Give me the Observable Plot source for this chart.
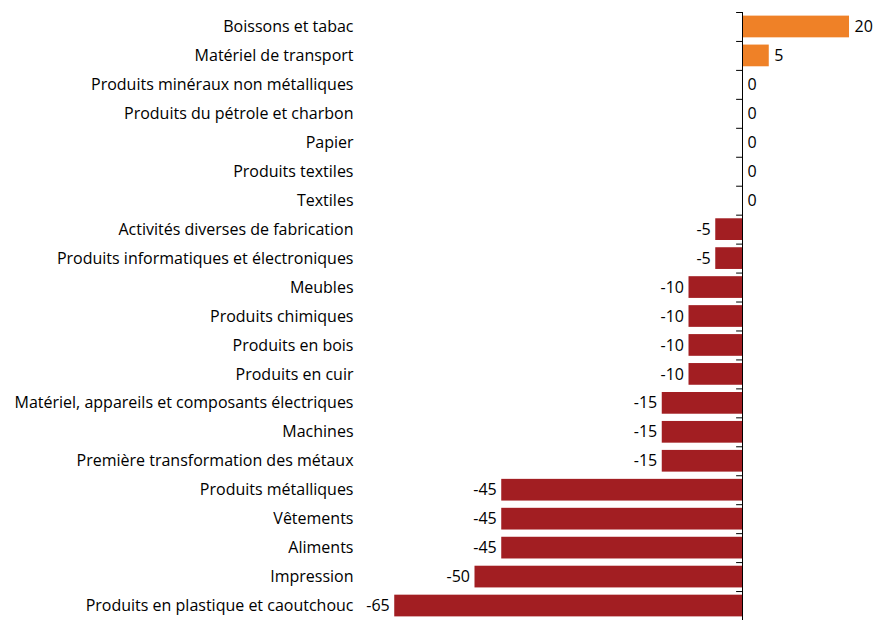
<!DOCTYPE html>
<html>
<head>
<meta charset="utf-8">
<script src="https://cdn.jsdelivr.net/npm/d3@7"></script>
<script src="https://cdn.jsdelivr.net/npm/@observablehq/plot@0.6"></script>
<style>
  html, body { margin: 0; padding: 0; background: #fff; }
  #chart svg { display: block; }
</style>
</head>
<body>
<div id="chart"></div>
<script>
const categories = [
  "Boissons et tabac",
  "Matériel de transport",
  "Produits minéraux non métalliques",
  "Produits du pétrole et charbon",
  "Papier",
  "Produits textiles",
  "Textiles",
  "Activités diverses de fabrication",
  "Produits informatiques et électroniques",
  "Meubles",
  "Produits chimiques",
  "Produits en bois",
  "Produits en cuir",
  "Matériel, appareils et composants électriques",
  "Machines",
  "Première transformation des métaux",
  "Produits métalliques",
  "Vêtements",
  "Aliments",
  "Impression",
  "Produits en plastique et caoutchouc"
];
const values = [20, 5, 0, 0, 0, 0, 0, -5, -5, -10, -10, -10, -10, -15, -15, -15, -45, -45, -45, -50, -65];

const data = categories.map((c, i) => ({category: c, value: values[i]}));

const W = 874, H = 620, mTop = 12, mBottom = 0, mLeft = 360, mRight = 0;
const step = (H - mTop - mBottom) / categories.length;
const font = "'Open Sans', sans-serif";
const fs = 16;

const chart = Plot.plot({
  width: W,
  height: H,
  marginTop: mTop,
  marginBottom: mBottom,
  marginLeft: mLeft,
  marginRight: mRight,
  style: {fontFamily: font, fontSize: fs + "px", color: "#000", background: "#fff"},
  x: {domain: [-71.4, 24.67], axis: null},
  y: {domain: categories, paddingInner: 0.25, paddingOuter: 0.125, round: false, label: null, axis: null},
  marks: [
    Plot.axisY({tickSize: 0, tickPadding: 7, fontSize: fs, fill: "#000", label: null}),
    Plot.barX(data, {
      y: "category", x: "value",
      fill: d => d.value > 0 ? "#EF8127" : "#A21E22"
    }),
    Plot.text(data.filter(d => d.value >= 0), {
      y: "category", x: "value", text: d => String(d.value),
      textAnchor: "start", dx: 5, fontSize: fs, fill: "#000"
    }),
    Plot.text(data.filter(d => d.value < 0), {
      y: "category", x: "value", text: d => String(d.value),
      textAnchor: "end", dx: -5, fontSize: fs, fill: "#000"
    }),
    Plot.ruleY(categories, {y: d => d, x1: -1.1, x2: 0, dy: -step / 2, stroke: "#000", strokeWidth: 1}),
    Plot.ruleX([0], {stroke: "#000", strokeWidth: 1})
  ]
});
document.getElementById("chart").appendChild(chart);
</script>
</body>
</html>
